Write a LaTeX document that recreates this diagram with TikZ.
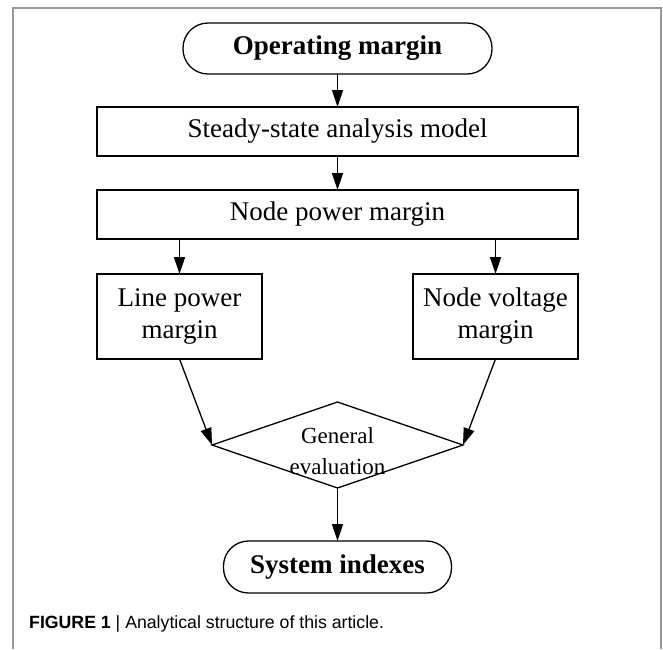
\documentclass[tikz,border=0pt]{standalone}
\usepackage{fontspec}
\setmainfont{Liberation Serif}
\newfontfamily\capfont{Liberation Sans}
\usetikzlibrary{shapes.geometric, arrows.meta, positioning}

\definecolor{framegray}{gray}{0.6}

\begin{document}
\begin{tikzpicture}[
  x=1pt, y=-1pt,
  box/.style={draw, line width=1.3pt, outer sep=0pt, inner sep=0pt,
              minimum width=481pt, minimum height=49pt,
              font=\fontsize{27}{32}\selectfont, align=center},
  smallbox/.style={box, minimum width=165pt, minimum height=85pt},
  term/.style={box, rounded corners=25pt, minimum width=309pt,
               minimum height=51pt, font=\fontsize{27}{32}\selectfont\bfseries},
  decision/.style={draw, diamond, line width=1.3pt, outer sep=0pt, inner sep=0pt,
                   aspect=2.92, minimum width=251pt, minimum height=86pt},
  evaltext/.style={inner sep=0pt, font=\fontsize{23}{31}\selectfont, align=center},
  arrow/.style={-{Triangle[length=17pt,width=11pt]}, line width=1.3pt},
  node distance=33pt
]
  \useasboundingbox (0,0) rectangle (663,649);
  \draw[framegray, line width=1.5pt] (13,649) -- (13,8) -- (661,8) -- (661,649);

  \node[term] (start) at (337.5,48.5) {Operating margin};
  \node[box, below=33pt of start] (steady) {Steady-state analysis model};
  \node[box, below=34pt of steady] (power) {Node power margin};
  \node[smallbox, below=35pt of power.south west, anchor=north west] (line) {Line power\\margin};
  \node[smallbox, below=35pt of power.south east, anchor=north east] (volt) {Node voltage\\margin};
  \node[decision, below=163pt of power] (eval) {};
  \node[evaltext] (evallabel) at ([yshift=-6pt]eval.center) {General\\evaluation};
  \node[term, minimum width=228pt, minimum height=52pt, below=53pt of eval] (stop) {System indexes};

  \draw[arrow] (start) -- (steady);
  \draw[arrow] (steady) -- (power);
  \draw[arrow] (power.south -| line.north) -- (line.north);
  \draw[arrow] (power.south -| volt.north) -- (volt.north);
  \draw[arrow] (line.south) -- (eval.west);
  \draw[arrow] (volt.south) -- (eval.east);
  \draw[arrow] (eval) -- (stop);

  % caption under the chart
  \node[anchor=base west, inner sep=0pt, font=\capfont\fontsize{17.7}{20}\selectfont]
    (caption) at (29,628) {\textbf{FIGURE 1} | Analytical structure of this article.};
\end{tikzpicture}
\end{document}
